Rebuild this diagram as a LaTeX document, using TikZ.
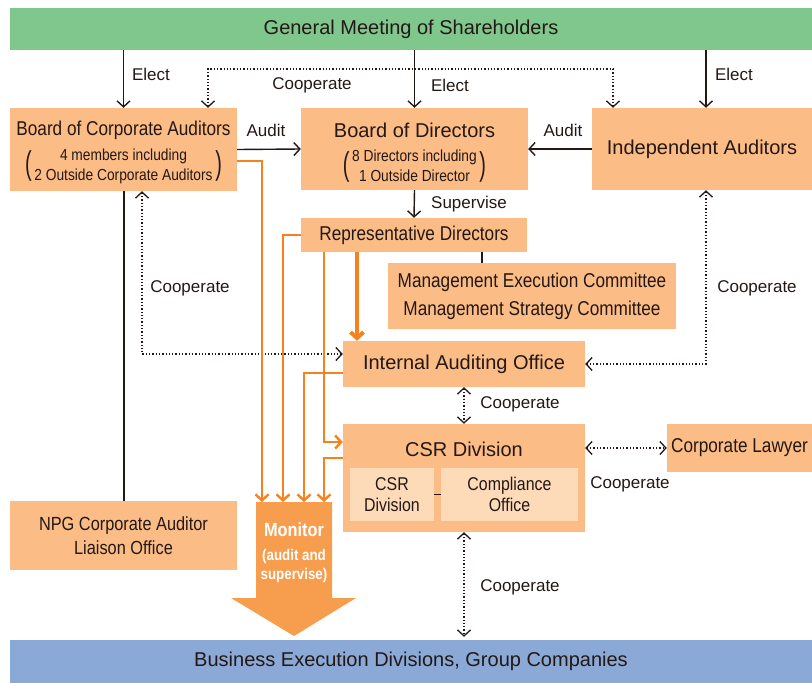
\documentclass[tikz,border=0pt]{standalone}
\usepackage{fontspec}
\setmainfont{Liberation Sans}
\newfontfamily\condfont[FakeStretch=0.86]{Liberation Sans}
\newfontfamily\parenfont[FakeStretch=0.6]{Liberation Sans}
\usetikzlibrary{arrows.meta, positioning, calc}

\definecolor{boxorange}{HTML}{FBBC85}
\definecolor{boxlight}{HTML}{FDDBB9}
\definecolor{lineorange}{HTML}{F5821F}
\definecolor{monorange}{HTML}{F79D4E}
\definecolor{topgreen}{HTML}{7FC78C}
\definecolor{botblue}{HTML}{8AA9D7}
\definecolor{inkdark}{HTML}{231815}

\newcommand{\bigparen}[1]{\vcenter{\hbox{\parenfont\fontsize{33}{33}\selectfont#1}}}
\newcommand{\subparen}[2]{$\bigparen{(}\vcenter{\hbox{\begin{tabular}{@{\,}c@{\,}}#1\\#2\end{tabular}}}\bigparen{)}$}

\tikzset{
  >={Straight Barb[length=6pt,width=13pt]},
  orgbox/.style={fill=boxorange, inner sep=0pt, text=inkdark, align=center,
    font=\condfont\fontsize{20}{24}\selectfont},
  plainbox/.style={orgbox, font=\fontsize{20}{24}\selectfont},
  subtext/.style={inner sep=0pt, text=inkdark, font=\condfont\fontsize{16}{20}\selectfont},
  subbox/.style={fill=boxlight, inner sep=0pt, text=inkdark, align=center,
    font=\condfont\fontsize{18.5}{21}\selectfont},
  bandbox/.style={inner sep=0pt, text=inkdark, font=\fontsize{20}{24}\selectfont},
  lbl/.style={font=\fontsize{17}{20}\selectfont, text=inkdark, inner sep=1pt},
  blackarr/.style={->, line width=1.4pt, draw=inkdark},
  blackline/.style={line width=2pt, draw=inkdark},
  coop/.style={<->, dotted, line width=1.3pt, draw=inkdark},
  orangeline/.style={->, line width=2.4pt, draw=lineorange},
}

\begin{document}
\begin{tikzpicture}[x=1pt, y=-1pt]
    \useasboundingbox (0,0) rectangle (812,683);

    % bands
    \node[bandbox, fill=topgreen, minimum width=802pt, minimum height=42pt] (gms) at (411,29) {General Meeting of Shareholders};
    \node[bandbox, fill=botblue, minimum width=802pt, minimum height=43pt] (bed) at (411,661.5) {Business Execution Divisions, Group Companies};

    % boxes
    \node[orgbox, minimum width=227pt, minimum height=83pt] (bca) at (123.5,149.5) {};
    \node[orgbox, fill=none] (bcatitle) at (123.5,130) {Board of Corporate Auditors};
    \node[subtext] (bcasub) at (123.5,166) {\subparen{4 members including}{2 Outside Corporate Auditors}};
    \node[orgbox, minimum width=227pt, minimum height=82pt] (bod) at (414.5,149) {};
    \node[plainbox, fill=none] (bodtitle) at (414.5,130) {Board of Directors};
    \node[subtext] (bodsub) at (414.5,167) {\subparen{8 Directors including}{1 Outside Director}};
    \node[plainbox, minimum width=220pt, minimum height=82pt] (ia) at (702,149) {Independent Auditors};
    \node[orgbox, minimum width=226pt, minimum height=34pt] (rd) at (414,235) {Representative Directors};
    \node[orgbox, minimum width=288pt, minimum height=66pt, font=\condfont\fontsize{20}{28}\selectfont] (mec) at (532,296)
        {Management Execution Committee\\Management Strategy Committee};
    \node[plainbox, minimum width=242pt, minimum height=46pt] (iao) at (464,364) {Internal Auditing Office};
    \node[orgbox, minimum width=242pt, minimum height=108pt] (csr) at (464,478) {};
    \node[plainbox, fill=none] (csrtitle) at (464,449) {CSR Division};
    \node[subbox, minimum width=84pt, minimum height=53pt] (csrin) at (392,494.5) {CSR\\Division};
    \node[subbox, minimum width=137pt, minimum height=53pt] (comp) at (509.5,494.5) {Compliance\\Office};
    \node[orgbox, minimum width=145pt, minimum height=48pt] (law) at (739.5,448) {Corporate Lawyer};
    \node[orgbox, minimum width=227pt, minimum height=69pt, font=\condfont\fontsize{19}{24}\selectfont] (npg) at (123.5,535.5)
        {NPG Corporate Auditor\\Liaison Office};

    % monitor arrow
    \fill[monorange] (256,502) -- (332,502) -- (332,598) -- (356,598) -- (294,636)
        -- (231,598) -- (256,598) -- cycle;
    \node[font=\condfont\bfseries\fontsize{19}{22}\selectfont, text=white] (mon) at (294,530) {Monitor};
    \node[font=\condfont\bfseries\fontsize{15.5}{19}\selectfont, text=white, align=center] (monsub) at (294,566) {(audit and\\supervise)};

    \coordinate (m1) at (262,502);
    \coordinate (m2) at (283,502);
    \coordinate (m3) at (304,502);
    \coordinate (m4) at (324,502);
    \coordinate (rdiao) at (357,0);
    \coordinate (rdmec) at (482,0);
    \coordinate (ctop) at (0,69);
    \coordinate (cbca) at (208,0);
    \coordinate (cia) at (613,0);
    \coordinate (cleft) at (142,0);
    \coordinate (cright) at (706,0);

    % elect and audit
    \draw[blackarr] (gms.south -| bca.north) -- (bca.north);
    \draw[blackarr] (gms.south -| bod.north) -- (bod.north);
    \draw[blackarr] (gms.south -| cright) -- (cright |- ia.north);
    \draw[blackarr] (bca.east) -- (bod.west);
    \draw[blackarr] (ia.west) -- (bod.east);
    \draw[blackarr] (bod.south) -- (rd.north);
    \draw[blackline] (bca.south) -- (npg.north);
    \draw[blackline] (rdmec |- rd.south) -- (rdmec |- mec.north);
    \draw[line width=1pt, draw=inkdark] (csrin.east) -- (comp.west);

    % cooperate
    \draw[coop] (cbca |- bca.north) -- (cbca |- ctop) -- (cia |- ctop) -- (cia |- ia.north);
    \draw[coop] (cleft |- bca.south) |- ([yshift=10pt]iao.west);
    \draw[coop] (cright |- ia.south) |- (iao.east);
    \draw[coop] (iao.south) -- (csr.north);
    \draw[coop] (csr.east |- law.west) -- (law.west);
    \draw[coop, shorten >=3pt] (csr.south) -- (csr.south |- bed.north);

    % monitor lines
    \draw[orangeline] ([yshift=-11.5pt]bca.east) -| (m1);
    \draw[orangeline] (rd.west) -| (m2);
    \draw[orangeline] ([yshift=-9pt]iao.west) -| (m3);
    \draw[orangeline] ([yshift=20pt]csr.west) -| (m4);
    \draw[orangeline] (m4 |- rd.south) |- ([yshift=36pt]csr.west);
    \draw[->, line width=4pt, draw=lineorange] (rdiao |- rd.south) -- (rdiao |- iao.north);

    % labels
    \node[lbl] (electL) at (151,74) {Elect};
    \node[lbl] (electM) at (450,85) {Elect};
    \node[lbl] (electR) at (734,74) {Elect};
    \node[lbl] (coopT) at (312,85) {Cooperate};
    \node[lbl] (auditL) at (266,130) {Audit};
    \node[lbl] (auditR) at (563,130) {Audit};
    \node[lbl] (superv) at (469,204) {Supervise};
    \node[lbl] (coopL) at (190,288) {Cooperate};
    \node[lbl] (coopR) at (757,288) {Cooperate};
    \node[lbl] (coopI) at (520,404) {Cooperate};
    \node[lbl] (coopW) at (630,484) {Cooperate};
    \node[lbl] (coopB) at (520,587) {Cooperate};
\end{tikzpicture}
\end{document}
